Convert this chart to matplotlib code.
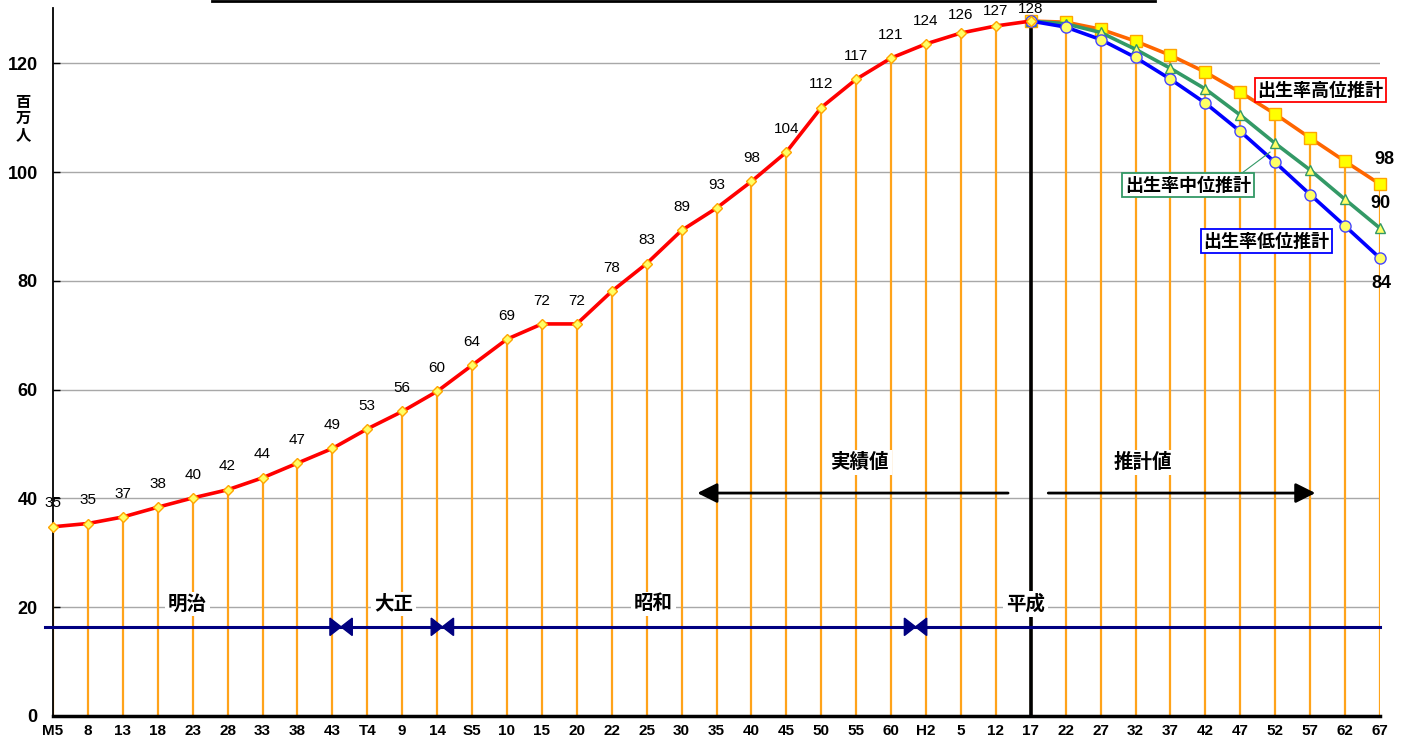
import numpy as np
import matplotlib.pyplot as plt
from matplotlib.patches import Polygon
from matplotlib.lines import Line2D

plt.rcParams['font.family'] = ['Liberation Sans', 'Noto Sans CJK JP']
JP = 'Noto Sans CJK JP'

# x axis: survey years (era + year)
years = ['M5', '8', '13', '18', '23', '28', '33', '38', '43', 'T4', '9', '14',
         'S5', '10', '15', '20', '22', '25', '30', '35', '40', '45', '50', '55',
         '60', 'H2', '5', '12', '17', '22', '27', '32', '37', '42', '47', '52',
         '57', '62', '67']

# actual population (million), M5 .. H17
actual = [34.8, 35.4, 36.6, 38.4, 40.1, 41.6, 43.8, 46.5, 49.2, 52.8, 56.0,
          59.7, 64.5, 69.3, 72.1, 72.1, 78.1, 83.2, 89.3, 93.4, 98.3, 103.7,
          111.9, 117.1, 121.0, 123.6, 125.6, 126.9, 127.8]
actual_labels = ['35', '35', '37', '38', '40', '42', '44', '47', '49', '53', '56',
                 '60', '64', '69', '72', '72', '78', '83', '89', '93', '98', '104',
                 '112', '117', '121', '124', '126', '127', '128']

# projections H17 .. H67
proj_high = [127.8, 127.6, 126.3, 124.1, 121.5, 118.4, 114.7, 110.7, 106.3, 102.0, 97.8]
proj_mid = [127.8, 127.3, 125.7, 122.6, 119.1, 115.3, 110.5, 105.3, 100.4, 95.0, 89.7]
proj_low = [127.8, 126.7, 124.4, 121.1, 117.1, 112.7, 107.5, 101.8, 95.9, 90.1, 84.2]

eras = ['明治', '大正', '昭和', '平成']
era_pos = [3.85, 9.75, 17.2, 27.85]
era_bounds = [8.25, 11.15, 24.7]

x = np.arange(len(years))
x_act = x[:len(actual)]
x_proj = x[len(actual) - 1:]

fig = plt.figure(figsize=(14.03, 7.45), dpi=100)
ax = fig.add_axes([53 / 1403, 29 / 745, 1327 / 1403, 708 / 745])
ax.set_xlim(0, len(years) - 1)
ax.set_ylim(0, 130.2)

# horizontal grid
for g in range(20, 121, 20):
    ax.axhline(g, color='#a8a8a8', lw=1, zorder=1)

# orange drop lines from every point down to zero
tops = actual[:-1] + proj_high
ax.vlines(x, 0, tops, color='#ffa31a', lw=1.6, zorder=2)
# boundary between actual values and projections
ax.vlines(x_act[-1], 0, actual[-1], color='black', lw=2.6, zorder=3)

# era band line with bow-tie separators
ax.plot([-0.23, len(years) - 1], [16.4, 16.4], color='#000080', lw=2.2,
        clip_on=False, zorder=4)
for b in era_bounds:
    w, h = 0.32, 1.6
    ax.add_patch(Polygon([(b - w, 16.4 - h), (b - w, 16.4 + h), (b, 16.4)],
                         closed=True, color='#000080', zorder=5))
    ax.add_patch(Polygon([(b + w, 16.4 - h), (b + w, 16.4 + h), (b, 16.4)],
                         closed=True, color='#000080', zorder=5))
for name, p in zip(eras, era_pos):
    ax.text(p, 20.6, name, family=JP, fontsize=14, fontweight='bold',
            ha='center', va='center', zorder=6,
            bbox=dict(facecolor='white', edgecolor='none', pad=2))

# actual vs projected arrows
ax.text(23.1, 46.6, '実績値', family=JP, fontsize=14, fontweight='bold',
        ha='center', va='center', zorder=6,
        bbox=dict(facecolor='white', edgecolor='none', pad=2))
ax.text(31.2, 46.6, '推計値', family=JP, fontsize=14, fontweight='bold',
        ha='center', va='center', zorder=6,
        bbox=dict(facecolor='white', edgecolor='none', pad=2))
arrow = dict(arrowstyle='-|>,head_length=1.0,head_width=0.5', color='black',
             lw=2, mutation_scale=12, shrinkA=0, shrinkB=0)
ax.annotate('', xy=(18.45, 41.0), xytext=(27.35, 41.0), arrowprops=arrow, zorder=6)
ax.annotate('', xy=(36.15, 41.0), xytext=(28.5, 41.0), arrowprops=arrow, zorder=6)

# series
ax.plot(x_proj, proj_high, color='#ff6600', lw=2.6, marker='s', ms=8,
        mfc='#ffff00', mec='#ffa500', mew=1, zorder=7, clip_on=False)
ax.plot(x_proj, proj_mid, color='#339966', lw=2.6, marker='^', ms=7,
        mfc='#ffff66', mec='#339966', mew=1, zorder=8, clip_on=False)
ax.plot(x_proj, proj_low, color='#0000ff', lw=2.6, marker='o', ms=8,
        mfc='#ffff66', mec='#4444ff', mew=1, zorder=9, clip_on=False)
ax.plot(x_act, actual, color='#ff0000', lw=2.6, marker='D', ms=5,
        mfc='#ffff66', mec='#ffa500', mew=1, zorder=10, clip_on=False)

# value labels above the actual series, squeezed near the top edge
label_y = np.minimum(np.array(actual) + 4.3, 130.1 - 0.5 * (127.8 - np.array(actual)))
for xi, ly, s in zip(x_act, label_y, actual_labels):
    ax.text(xi, ly, s, fontsize=11, ha='center', va='center',
            zorder=11, clip_on=False)

ax.text(x[-1] + 0.12, proj_high[-1] + 4.6, '98', fontsize=13, fontweight='bold',
        ha='center', va='center', zorder=11)
ax.text(x[-1], proj_mid[-1] + 4.5, '90', fontsize=13, fontweight='bold',
        ha='center', va='center', zorder=11)
ax.text(x[-1] + 0.05, proj_low[-1] - 4.6, '84', fontsize=13, fontweight='bold',
        ha='center', va='center', zorder=11)

# series name boxes
ax.text(36.3, 115.1, '出生率高位推計', family=JP, fontsize=13, fontweight='bold',
        ha='center', va='center', zorder=12, clip_on=False,
        bbox=dict(facecolor='white', edgecolor='#ff0000', lw=1.3, pad=2))
ax.plot([33.85, 34.85], [98.9, 103.7], color='#339966', lw=0.8, zorder=11)
ax.text(32.5, 97.6, '出生率中位推計', family=JP, fontsize=13, fontweight='bold',
        ha='center', va='center', zorder=12,
        bbox=dict(facecolor='white', edgecolor='#339966', lw=1.3, pad=2))
ax.text(34.75, 87.3, '出生率低位推計', family=JP, fontsize=13, fontweight='bold',
        ha='center', va='center', zorder=12,
        bbox=dict(facecolor='white', edgecolor='#0000ff', lw=1.3, pad=2))

# axes styling
for side in ['top', 'right']:
    ax.spines[side].set_visible(False)
ax.spines['bottom'].set_linewidth(2.5)
ax.spines['left'].set_linewidth(1.3)
ax.set_yticks(range(0, 121, 20))
ax.set_yticklabels([str(v) for v in range(0, 121, 20)], fontsize=13,
                   fontweight='bold')
ax.tick_params(axis='y', direction='in', length=5, width=1, pad=11)
ax.set_xticks(x)
ax.set_xticklabels(years, fontsize=11, fontweight='bold')
ax.tick_params(axis='x', length=0, pad=6)
ax.text(-0.86, 110, '百\n万\n人', family=JP, fontsize=11, fontweight='bold',
        ha='center', va='center', linespacing=1.0, clip_on=False)

fig.add_artist(Line2D([212 / 1403, 1155 / 1403], [0.999, 0.999], color='black', lw=2))

fig.savefig('out.png', dpi=100)
